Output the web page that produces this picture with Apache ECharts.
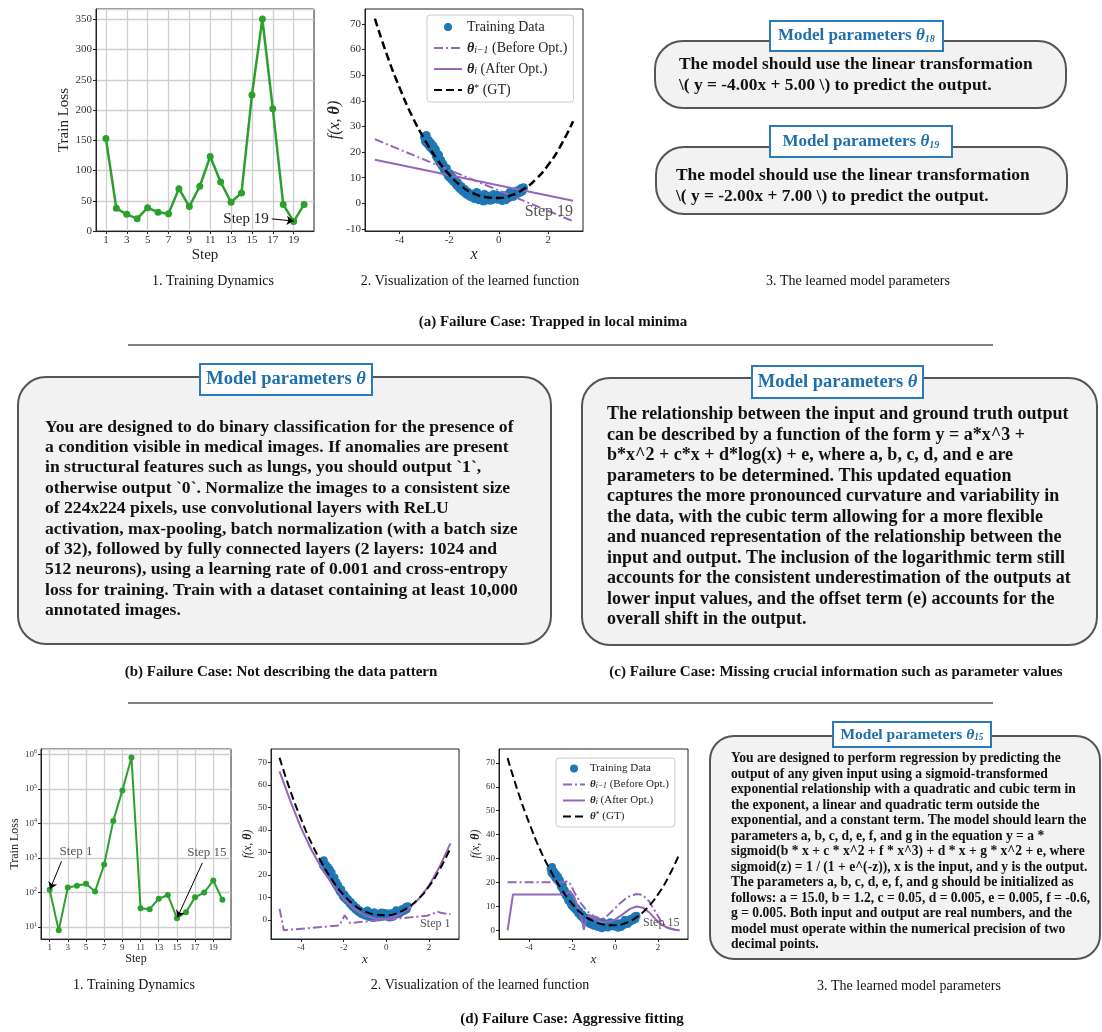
<!DOCTYPE html>
<html>
<head>
<meta charset="utf-8">
<script src="https://cdn.jsdelivr.net/npm/echarts@6/dist/echarts.min.js"></script>
<style>html,body{margin:0;padding:0;background:#fff}#main{width:1102px;height:1032px}</style>
</head>
<body>
<div id="main"></div>
<script>
var FONT = 'Liberation Serif';

// (a) 训练过程: 每步的 train loss
var stepsA = [1,2,3,4,5,6,7,8,9,10,11,12,13,14,15,16,17,18,19,20];
var lossA = [153,37.5,27.6,20.4,38.6,30.9,28.7,70,40.3,74,123,81,47.5,63,225,350.5,202,44,15.5,44];
// (d) 训练过程 (对数坐标)
var lossD = [120,8,140,158,180,108,650,12000,92000,830000,35,33,66,85,18,27,73,100,225,62];

// 刻度
var stepTicks = [1,3,5,7,9,11,13,15,17,19];
var xTicks = [-4,-2,0,2];
var fTicksA = [-10,0,10,20,30,40,50,60,70];
var fTicksD = [0,10,20,30,40,50,60,70];

// 真实函数 theta* (GT)
var gtX = [-5,-4.5,-4,-3.5,-3,-2.5,-2,-1.5,-1,-0.5,0,0.5,1,1.5,2,2.5,3];
var gtY = [72,57.5,45,34,25,17.3,11.2,6.6,3.8,2.4,2.1,3.1,5.5,9.4,15,22.5,32];

// 训练数据
var trainX = [-3.00,-2.96,-2.93,-2.88,-2.84,-2.78,-2.74,-2.70,-2.65,-2.61,-2.56,-2.52,-2.47,-2.43,-2.38,-2.34,-2.29,-2.25,-2.20,-2.16,-2.11,-2.06,-2.02,-1.97,-1.93,-1.88,-1.84,-1.79,-1.75,-1.70,-1.66,-1.61,-1.57,-1.52,-1.48,-1.43,-1.39,-1.34,-1.30,-1.25,-1.21,-1.16,-1.12,-1.07,-1.03,-0.98,-0.94,-0.89,-0.85,-0.80,-0.76,-0.71,-0.67,-0.62,-0.58,-0.53,-0.49,-0.44,-0.40,-0.35,-0.31,-0.26,-0.22,-0.17,-0.13,-0.08,-0.04,0.01,0.05,0.10,0.14,0.19,0.23,0.28,0.32,0.37,0.41,0.46,0.50,0.55,0.59,0.64,0.68,0.73,0.77,0.82,0.86,0.91,0.95,1.00];
var trainY = [25.8,24.1,26.5,23.2,24.6,22.0,23.5,21.3,22.4,20.2,21.0,18.4,17.6,18.9,15.9,16.8,14.6,15.3,13.1,12.4,13.6,11.2,10.4,11.5,9.6,10.1,8.7,9.2,7.9,7.1,8.0,6.3,5.8,6.6,5.1,4.6,5.5,4.0,3.6,4.4,3.1,2.7,3.6,2.4,3.0,1.9,2.6,4.2,2.0,1.4,3.0,1.8,2.5,0.9,3.5,1.3,2.2,1.6,2.8,1.2,2.0,1.5,3.4,1.8,2.4,3.1,1.6,2.9,1.8,2.3,1.1,3.0,2.1,1.4,2.6,3.2,2.2,4.4,3.1,3.8,2.7,4.1,3.5,4.8,3.9,5.0,4.3,5.8,4.8,6.1];

// (a) theta_18 / theta_19 两条直线
var beforeAX = [-5,3], beforeAY = [25,-7];
var afterAX = [-5,3], afterAY = [17,1];

// (d) step 1
var beforeD2X = [-5,-4.8,-2.2,-1.95,-1.7,1.9,2.4,2.6,3];
var beforeD2Y = [5,-4.5,-2.4,2.1,-1.3,1.9,3.7,3.1,2.6];
var afterD2Y = [66,53,41,31,22.5,15.5,9.5,5,2,0.6,0.5,1.8,4.8,9.2,15.3,23.8,34];

// (d) step 15
var beforeD3X = [-5,-2.4,-2.2,-2.05,-1.9,-1.6,-1.3,-1.0,-0.7,-0.5,-0.2,0.2,0.6,1.0,1.3,1.6,1.9,2.2,2.5,2.8,3];
var beforeD3Y = [20.1,20.1,20.6,19,16,11.5,8,6,4.8,5,7.5,11,14,15.2,14.8,12,7.5,3,1,0.2,0];
var afterD3X = [-5,-4.75,-2.3,-2.1,-1.9,-1.7,-1.55,-1.45,-1.35,-1.2,-0.9,-0.6,-0.3,0,0.4,0.7,1.0,1.3,1.6,1.9,2.2,2.5,2.8,3];
var afterD3Y = [0,15,15,16.5,14,9,5,0.2,4.5,6.5,4.5,3.5,3.6,4.5,7,9,10,9.5,7.5,4.5,2.2,0.9,0.3,0.1];

var GREEN = '#2ca02c', BLUE = '#1f77b4', PURPLE = '#9467bd';
var DASHDOT = [9,3,2,3], DASH = [8,4];
var GRIDLINE = {color: '#cfcfcf', width: 1.3};

function pairs(xs, ys) {
    return xs.map(function (x, i) { return [x, ys[i]]; });
}

// 坐标轴通用配置
function axis(gi, min, max, ticks, fs, gridOn) {
    var ax = {
        type: 'value', gridIndex: gi, min: min, max: max,
        axisLine: {show: true, onZero: false, lineStyle: {color: '#222', width: 1}},
        axisTick: {show: true, length: 3, lineStyle: {color: '#222'}},
        axisLabel: {fontSize: fs, color: '#333', fontFamily: FONT, margin: 4},
        splitLine: {show: gridOn, lineStyle: GRIDLINE}
    };
    if (ticks) {
        ax.axisTick.customValues = ticks;
        ax.axisLabel.customValues = ticks;
    }
    return ax;
}
function named(ax, name, gap, fs, rich) {
    ax.name = name;
    ax.nameLocation = 'middle';
    ax.nameGap = gap;
    ax.nameTextStyle = {fontFamily: FONT, fontSize: fs, color: '#222', rich: rich};
    return ax;
}

var fRich = function (fs) {
    return {
        i: {fontFamily: FONT, fontStyle: 'italic', fontSize: fs, color: '#222'},
        b: {fontFamily: FONT, fontStyle: 'italic', fontWeight: 'bold', fontSize: fs, color: '#222'}
    };
};
var F_NAME = '{i|f(x, }{b|θ}{i|)}';

var xAxes = [
    named(axis(0, 0.05, 20.95, stepTicks, 11, false), 'Step', 17, 15),
    named(axis(1, -5.4, 3.4, xTicks, 11, false), 'x', 16, 16),
    named(axis(2, 0.05, 20.95, stepTicks, 9, false), 'Step', 14, 12),
    named(axis(3, -5.4, 3.4, xTicks, 9, false), 'x', 13, 13),
    named(axis(4, -5.4, 3.4, xTicks, 9, false), 'x', 13, 13)
];
xAxes[1].nameTextStyle.fontStyle = 'italic';
xAxes[3].nameTextStyle.fontStyle = 'italic';
xAxes[4].nameTextStyle.fontStyle = 'italic';

var lossAxis = axis(0, 0, 367, null, 11, true);
lossAxis.interval = 50;

var logY = {
    type: 'log', logBase: 10, gridIndex: 2, min: 4.49, max: 1.46e6,
    axisLine: {show: true, lineStyle: {color: '#222', width: 1}},
    axisTick: {show: true, length: 3, lineStyle: {color: '#222'}},
    axisLabel: {
        showMinLabel: false, showMaxLabel: false, margin: 4,
        fontSize: 9, color: '#333', fontFamily: FONT,
        formatter: function (v) {
            return '10{e|' + Math.round(Math.log10(v)) + '}';
        },
        rich: {e: {fontSize: 6, fontFamily: FONT, color: '#333', verticalAlign: 'top', padding: [0, 0, 6, 0]}}
    },
    splitLine: {show: true, lineStyle: GRIDLINE}
};

var yAxes = [
    named(lossAxis, 'Train Loss', 24, 15),
    named(axis(1, -10.8, 75.8, fTicksA, 11, false), F_NAME, 18, 16, fRich(16)),
    named(logY, 'Train Loss', 15, 12),
    named(axis(3, -8.4, 75.9, fTicksD, 9, false), F_NAME, 17, 12, fRich(12)),
    named(axis(4, -3.6, 75.8, fTicksD, 9, false), F_NAME, 15, 12, fRich(12))
];

function textMark(coord, txt, fs, pos) {
    return {
        coord: coord, symbol: 'circle', symbolSize: 0, itemStyle: {color: 'rgba(0,0,0,0)'},
        label: {show: true, position: pos, distance: 0, formatter: txt, fontSize: fs, fontFamily: FONT, color: '#555'}
    };
}
function arrow(from, to) {
    return [{coord: from}, {coord: to}];
}
var markLineBase = {
    silent: true, symbol: ['none', 'arrow'], symbolSize: 7,
    lineStyle: {color: '#000', width: 1, type: 'solid'}
};

// 竖直网格线 (奇数步)
function stepGrid(gi) {
    return {
        type: 'line', xAxisIndex: gi, yAxisIndex: gi, data: [], z: 1, silent: true,
        markLine: {silent: true, z: 1, symbol: 'none', label: {show: false}, animation: false,
            lineStyle: {color: GRIDLINE.color, width: GRIDLINE.width, type: 'solid'},
            data: stepTicks.map(function (v) { return {xAxis: v}; })}
    };
}

function fitSeries(gi, before, after, gtWidth, stepText, dot) {
    return [
        {name: 'data', type: 'scatter', xAxisIndex: gi, yAxisIndex: gi, data: pairs(trainX, trainY), z: 2,
         symbolSize: dot, itemStyle: {color: BLUE, opacity: 1}},
        {name: 'before', type: 'line', xAxisIndex: gi, yAxisIndex: gi, data: before, symbol: 'none', z: 3,
         lineStyle: {color: PURPLE, width: 2, type: DASHDOT}, itemStyle: {color: PURPLE}},
        {name: 'after', type: 'line', xAxisIndex: gi, yAxisIndex: gi, data: after, symbol: 'none', z: 3,
         lineStyle: {color: PURPLE, width: 2}, itemStyle: {color: PURPLE}},
        {name: 'gt', type: 'line', xAxisIndex: gi, yAxisIndex: gi, data: pairs(gtX, gtY), symbol: 'none', smooth: true, z: 4,
         lineStyle: {color: '#000', width: gtWidth, type: DASH}, itemStyle: {color: '#000'},
         markPoint: {silent: true, data: [stepText]}}
    ];
}

var series = [
    stepGrid(0),
    stepGrid(2),
    {type: 'line', xAxisIndex: 0, yAxisIndex: 0, data: pairs(stepsA, lossA), z: 3,
     symbol: 'circle', symbolSize: 7, lineStyle: {color: GREEN, width: 2.5}, itemStyle: {color: GREEN},
     markLine: Object.assign({}, markLineBase, {
         label: {show: true, position: 'start', distance: 3, formatter: 'Step 19', fontSize: 15, fontFamily: FONT, color: '#222'},
         data: [arrow([16.9, 20], [19, 16.5])]
     })},
    {type: 'line', xAxisIndex: 2, yAxisIndex: 2, data: pairs(stepsA, lossD), z: 3,
     symbol: 'circle', symbolSize: 6, lineStyle: {color: GREEN, width: 2}, itemStyle: {color: GREEN},
     markLine: Object.assign({}, markLineBase, {label: {show: false},
         data: [arrow([2.3, 800], [1.05, 125]), arrow([17.8, 725], [15.05, 19])]}),
     markPoint: {silent: true, data: [textMark([3.9, 1500], 'Step 1', 13, 'inside'), textMark([18.3, 1450], 'Step 15', 13, 'inside')]}}
].concat(
    fitSeries(1, pairs(beforeAX, beforeAY), pairs(afterAX, afterAY), 2.5, textMark([3.0, -3.5], 'Step 19', 16, 'left'), 9),
    fitSeries(3, pairs(beforeD2X, beforeD2Y), pairs(gtX, afterD2Y), 2, textMark([3.0, -1.6], 'Step 1', 12, 'left'), 8),
    fitSeries(4, pairs(beforeD3X, beforeD3Y), pairs(afterD3X, afterD3Y), 2, textMark([3.0, 3.2], 'Step 15', 12, 'left'), 8)
);

var legendText = {
    data: 'Training Data',
    before: '{b|θ}{s|i−1} (Before Opt.)',
    after: '{b|θ}{s|i} (After Opt.)',
    gt: '{b|θ}{p|*} (GT)'
};
function legend(left, top, fs, iw, gap) {
    var noDot = {opacity: 0};
    return {
        left: left, top: top, orient: 'vertical', itemWidth: iw, itemHeight: 8, itemGap: gap,
        padding: [5, 6], backgroundColor: 'rgba(255,255,255,0.85)', borderColor: '#ccc', borderWidth: 1, borderRadius: 3,
        selectedMode: false,
        data: [{name: 'data', icon: 'circle'}, {name: 'before', itemStyle: noDot},
               {name: 'after', itemStyle: noDot}, {name: 'gt', itemStyle: noDot}],
        formatter: function (n) { return legendText[n]; },
        textStyle: {fontFamily: FONT, fontSize: fs, color: '#222', rich: {
            b: {fontFamily: FONT, fontSize: fs, fontWeight: 'bold', fontStyle: 'italic', color: '#222'},
            s: {fontFamily: FONT, fontSize: fs * 0.7, fontStyle: 'italic', color: '#222', verticalAlign: 'bottom'},
            p: {fontFamily: FONT, fontSize: fs * 0.7, color: '#222', verticalAlign: 'top'}
        }}
    };
}

// 文本框 (模型参数)
function paramBox(b) {
    return [
        {type: 'rect', shape: {x: b.x, y: b.y, width: b.w, height: b.h, r: b.r},
         style: {fill: '#f2f2f2', stroke: '#555', lineWidth: 2}},
        {type: 'rect', shape: {x: b.tx, y: b.ty, width: b.tw, height: b.th},
         style: {fill: '#fff', stroke: '#2b7bb9', lineWidth: 2}},
        {type: 'text', x: b.tx + b.tw / 2, y: b.ty + b.th / 2,
         style: {text: '{t|Model parameters }{th|θ}' + (b.sub ? '{sub|' + b.sub + '}' : ''),
             align: 'center', verticalAlign: 'middle',
             rich: {
                 t: {fontFamily: FONT, fontWeight: 'bold', fontSize: b.tfs, fill: '#1f6fae'},
                 th: {fontFamily: FONT, fontWeight: 'bold', fontStyle: 'italic', fontSize: b.tfs, fill: '#1f6fae'},
                 sub: {fontFamily: FONT, fontWeight: 'bold', fontStyle: 'italic', fontSize: b.tfs * 0.6, fill: '#1f6fae', verticalAlign: 'bottom'}
             }}},
        {type: 'text', x: b.lx, y: b.ly,
         style: {text: b.lines.join('\n'), font: 'bold ' + b.fs + 'px "' + FONT + '"', fill: '#111',
             lineHeight: b.lh, align: 'left', verticalAlign: 'top'}}
    ];
}
function label(x, y, txt, fs, bold) {
    return {type: 'text', x: x, y: y, style: {text: txt, font: (bold ? 'bold ' : '') + fs + 'px "' + FONT + '"',
        fill: '#111', align: 'center', verticalAlign: 'middle'}};
}
function rule(y) {
    return {type: 'line', shape: {x1: 128, y1: y, x2: 993, y2: y}, style: {stroke: '#000', lineWidth: 1.2}};
}

var graphics = [].concat(
    paramBox({x: 655, y: 41, w: 411, h: 67, r: 28, tx: 770, ty: 21, tw: 173, th: 30, tfs: 17, sub: '18',
        lx: 679, ly: 54.5, fs: 17.4, lh: 21,
        lines: ['The model should use the linear transformation', '\\( y = -4.00x + 5.00 \\) to predict the output.']}),
    paramBox({x: 656, y: 147, w: 411, h: 67, r: 28, tx: 770, ty: 126, tw: 182, th: 31, tfs: 17, sub: '19',
        lx: 676, ly: 165.5, fs: 17.4, lh: 21,
        lines: ['The model should use the linear transformation', '\\( y = -2.00x + 7.00 \\) to predict the output.']}),
    paramBox({x: 18, y: 377, w: 533, h: 267, r: 28, tx: 200, ty: 364, tw: 172, th: 31, tfs: 18.5,
        lx: 45, ly: 416.8, fs: 17.6, lh: 20.4,
        lines: [
            'You are designed to do binary classification for the presence of',
            'a condition visible in medical images. If anomalies are present',
            'in structural features such as lungs, you should output `1`,',
            'otherwise output `0`. Normalize the images to a consistent size',
            'of 224x224 pixels, use convolutional layers with ReLU',
            'activation, max-pooling, batch normalization (with a batch size',
            'of 32), followed by fully connected layers (2 layers: 1024 and',
            '512 neurons), using a learning rate of 0.001 and cross-entropy',
            'loss for training. Train with a dataset containing at least 10,000',
            'annotated images.'
        ]}),
    paramBox({x: 582, y: 378, w: 515, h: 267, r: 28, tx: 752, ty: 366, tw: 171, th: 32, tfs: 18.5,
        lx: 607, ly: 404.2, fs: 18, lh: 20.5,
        lines: [
            'The relationship between the input and ground truth output',
            'can be described by a function of the form y = a*x^3 +',
            'b*x^2 + c*x + d*log(x) + e, where a, b, c, d, and e are',
            'parameters to be determined. This updated equation',
            'captures the more pronounced curvature and variability in',
            'the data, with the cubic term allowing for a more flexible',
            'and nuanced representation of the relationship between the',
            'input and output. The inclusion of the logarithmic term still',
            'accounts for the consistent underestimation of the outputs at',
            'lower input values, and the offset term (e) accounts for the',
            'overall shift in the output.'
        ]}),
    paramBox({x: 710, y: 736, w: 390, h: 223, r: 24, tx: 833, ty: 722, tw: 158, th: 25, tfs: 15.5, sub: '15',
        lx: 731, ly: 751.2, fs: 13.6, lh: 15.5,
        lines: [
            'You are designed to perform regression by predicting the',
            'output of any given input using a sigmoid-transformed',
            'exponential relationship with a quadratic and cubic term in',
            'the exponent, a linear and quadratic term outside the',
            'exponential, and a constant term. The model should learn the',
            'parameters a, b, c, d, e, f, and g in the equation y = a *',
            'sigmoid(b * x + c * x^2 + f * x^3) + d * x + g * x^2 + e, where',
            'sigmoid(z) = 1 / (1 + e^(-z)), x is the input, and y is the output.',
            'The parameters a, b, c, d, e, f, and g should be initialized as',
            'follows: a = 15.0, b = 1.2, c = 0.05, d = 0.005, e = 0.005, f = -0.6,',
            'g = 0.005. Both input and output are real numbers, and the',
            'model must operate within the numerical precision of two',
            'decimal points.'
        ]}),
    [
        label(213, 281, '1. Training Dynamics', 14),
        label(470, 281, '2. Visualization of the learned function', 14),
        label(858, 281, '3. The learned model parameters', 14),
        label(553, 322, '(a) Failure Case: Trapped in local minima', 15, true),
        rule(345),
        label(281, 672, '(b) Failure Case: Not describing the data pattern', 15, true),
        label(836, 672, '(c) Failure Case: Missing crucial information such as parameter values', 15, true),
        rule(703),
        label(134, 985, '1. Training Dynamics', 14),
        label(480, 985, '2. Visualization of the learned function', 14),
        label(909, 986, '3. The learned model parameters', 14),
        label(572, 1019, '(d) Failure Case: Aggressive fitting', 15, true)
    ]
);

var chart = echarts.init(document.getElementById('main'));
chart.setOption({
    animation: false,
    backgroundColor: '#fff',
    textStyle: {fontFamily: FONT},
    grid: [
        {left: 96, top: 9, width: 218, height: 222},
        {left: 365, top: 9, width: 218, height: 222},
        {left: 41, top: 749, width: 190, height: 190},
        {left: 271, top: 749, width: 188, height: 190},
        {left: 499, top: 749, width: 189, height: 190}
    ].map(function (g) {
        return Object.assign(g, {show: true, borderColor: '#222', borderWidth: 1, backgroundColor: 'transparent'});
    }),
    xAxis: xAxes,
    yAxis: yAxes,
    legend: [legend(427, 15, 14, 28, 7), legend(556, 758, 11, 22, 5)],
    series: series,
    graphic: {elements: graphics}
});
</script>
</body>
</html>
